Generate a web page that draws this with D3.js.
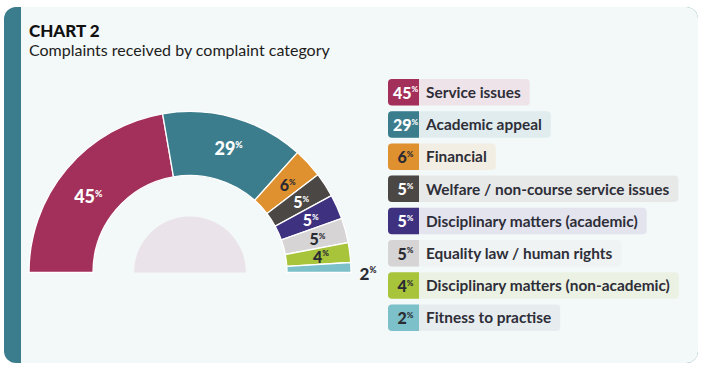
<!DOCTYPE html>
<html><head><meta charset="utf-8">
<script src="https://cdn.jsdelivr.net/npm/d3@7"></script>
<style>
html,body{margin:0;padding:0;background:#fff;}
svg{display:block;font-family:Lato,"Noto Sans",sans-serif;}
</style></head>
<body><svg id="c" width="711" height="371"></svg>
<script>
const title = "CHART 2";
const subtitle = "Complaints received by complaint category";
const categories = ["Service issues","Academic appeal","Financial","Welfare / non-course service issues","Disciplinary matters (academic)","Equality law / human rights","Disciplinary matters (non-academic)","Fitness to practise"];
const values = [45,29,6,5,5,5,4,2];
const colors = ["#A3305A","#3B7D8C","#E0912F","#4B4745","#3E3280","#D6D4D4","#A7C43B","#7CC0C9"];
const legendBg = ["#EFE3EA","#E0ECEE","#F3EEE3","#E7E9E9","#E4E4EF","#EFF3F4","#EBF2E4","#E7ECEF"];
const labelInk = ["#fff","#fff","#2B2B33","#fff","#fff","#2B2B33","#2B2B33","#2B2B33"];

const svg = d3.select("#c");
// panel
svg.append("rect").attr("x",4).attr("y",7).attr("width",694).attr("height",356).attr("rx",12).attr("fill","#3B7D8C");
svg.append("rect").attr("x",21).attr("y",7).attr("width",677).attr("height",356).attr("rx",12).attr("fill","#F3F8F8");
svg.append("rect").attr("x",21).attr("y",7).attr("width",20).attr("height",356).attr("fill","#F3F8F8");

svg.append("text").attr("x",29).attr("y",37).attr("font-size",17).attr("font-weight",900).attr("fill","#111").text(title);
svg.append("text").attr("x",29).attr("y",56).attr("font-size",16).attr("fill","#1d1d1d").text(subtitle);

const cx = 190, cy = 272.5, r0 = 97, r1 = 161;
const g = svg.append("g").attr("transform",`translate(${cx},${cy})`);
const pie = d3.pie().sort(null).startAngle(-Math.PI/2).endAngle(Math.PI/2);
const arcs = pie(values);
const arc = d3.arc().innerRadius(r0).outerRadius(r1);
g.selectAll("path.s").data(arcs).join("path").attr("class","s")
  .attr("d",arc).attr("fill",(d,i)=>colors[i]).attr("stroke","#fff").attr("stroke-width",1.3);

// inner half disc
g.append("path").attr("d",d3.arc().innerRadius(0).outerRadius(56).startAngle(-Math.PI/2).endAngle(Math.PI/2)()).attr("fill","#EAE3EA");

function pctText(sel, v, size, fill){
  sel.attr("fill",fill).attr("font-weight",900);
  sel.append("tspan").attr("font-size",size).text(v);
  sel.append("tspan").attr("font-size",size*0.5).attr("dy",-size*0.38).text("%");
}
arcs.forEach((d,i)=>{
  let [x,y] = arc.centroid(d);
  let size = i<2 ? 18 : 16;
  let fill = labelInk[i];
  if(i===0){ x -= 6; y += 8; }
  if(i===arcs.length-1){ x = 175; y = 1; fill="#2B2B33"; size=17; }
  const t = g.append("text").attr("x",x+3).attr("y",y+6).attr("text-anchor","middle");
  pctText(t, values[i], size, fill);
});

// legend
const lx = 388, ly = 79, step = 32.2, h = 26.5, sw = 31;
const lg = svg.append("g");
categories.forEach((c,i)=>{
  const y = ly + i*step;
  const row = lg.append("g");
  const bg = row.append("rect").attr("x",lx).attr("y",y).attr("height",h).attr("rx",4).attr("fill",legendBg[i]);
  const txt = row.append("text").attr("x",lx+sw+7).attr("y",y+19).attr("font-size",15.4).attr("font-weight",700).attr("fill","#2E2E38").text(c);
  const w = txt.node().getComputedTextLength();
  bg.attr("width", sw+7+w+9);
  row.append("path").attr("d",`M${lx+sw},${y}H${lx+4}a4,4 0 0 0 -4,4V${y+h-4}a4,4 0 0 0 4,4H${lx+sw}Z`).attr("fill",colors[i]);
  const pt = row.append("text").attr("x",lx+sw/2+2).attr("y",y+19.5).attr("text-anchor","middle");
  pctText(pt, values[i], 16, labelInk[i]);
});
</script></body></html>
